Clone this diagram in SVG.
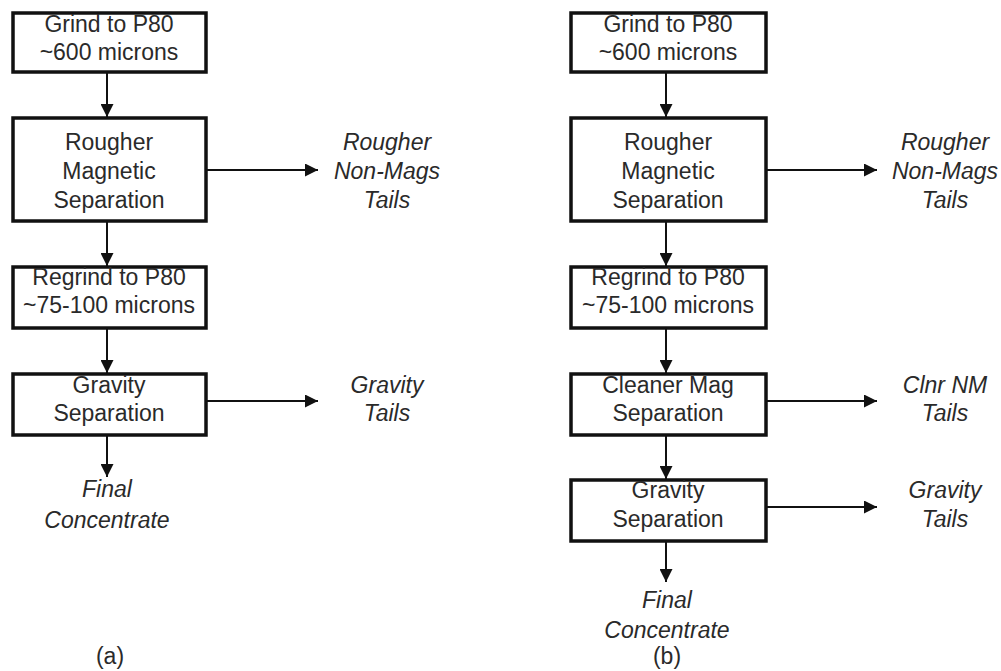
<svg xmlns="http://www.w3.org/2000/svg" width="1001" height="671" viewBox="0 0 1001 671">
<defs>
<marker id="ah" viewBox="0 0 10 10" refX="10" refY="5" markerWidth="6.5" markerHeight="6.5" markerUnits="strokeWidth" orient="auto">
<path d="M0,0 L10,5 L0,10 z" fill="#111"/>
</marker>
<style>
.box{fill:#fff;stroke:#111;stroke-width:3.5}
.t{font-family:"Liberation Sans",Arial,sans-serif;font-size:23px;fill:#2a2a2a;text-anchor:middle}
.i{font-style:italic}
.c{stroke:#111;stroke-width:2;fill:none;marker-end:url(#ah)}
</style>
</defs>
<rect width="1001" height="671" fill="#fff"/>
<g id="connectors">
<line class="c" x1="107" y1="73" x2="107" y2="117"/>
<line class="c" x1="107" y1="222" x2="107" y2="266"/>
<line class="c" x1="206" y1="170" x2="318" y2="170"/>
<line class="c" x1="107" y1="328" x2="107" y2="373"/>
<line class="c" x1="206" y1="401" x2="318" y2="401"/>
<line class="c" x1="107" y1="435" x2="107" y2="477"/>
<line class="c" x1="666" y1="73" x2="666" y2="117"/>
<line class="c" x1="666" y1="222" x2="666" y2="266"/>
<line class="c" x1="766" y1="170" x2="877" y2="170"/>
<line class="c" x1="666" y1="328" x2="666" y2="373"/>
<line class="c" x1="766" y1="401" x2="877" y2="401"/>
<line class="c" x1="666" y1="435" x2="666" y2="479"/>
<line class="c" x1="766" y1="507" x2="877" y2="507"/>
<line class="c" x1="666" y1="541" x2="666" y2="582"/>
</g>
<g id="a-grind">
<rect class="box" x="13" y="13" width="193" height="59"/>
<text class="t" x="109" y="32">Grind to P80</text>
<text class="t" x="109" y="60">~600 microns</text>
</g>
<g id="a-rougher">
<rect class="box" x="13" y="118" width="193" height="103"/>
<text class="t" x="109" y="150">Rougher</text>
<text class="t" x="109" y="179">Magnetic</text>
<text class="t" x="109" y="208">Separation</text>
</g>
<g id="a-rougher-tails">
<text class="t i" x="387" y="150">Rougher</text>
<text class="t i" x="387" y="179">Non-Mags</text>
<text class="t i" x="387" y="208">Tails</text>
</g>
<g id="a-regrind">
<rect class="box" x="13" y="267" width="193" height="61"/>
<text class="t" x="109" y="285">Regrind to P80</text>
<text class="t" x="109" y="313">~75-100 microns</text>
</g>
<g id="a-gravity">
<rect class="box" x="13" y="374" width="193" height="61"/>
<text class="t" x="109" y="393">Gravity</text>
<text class="t" x="109" y="421">Separation</text>
</g>
<g id="a-gravity-tails">
<text class="t i" x="387" y="393">Gravity</text>
<text class="t i" x="387" y="421">Tails</text>
</g>
<g id="a-final">
<text class="t i" x="107" y="497">Final</text>
<text class="t i" x="107" y="528">Concentrate</text>
</g>
<text class="t" x="110" y="664">(a)</text>
<g id="b-grind">
<rect class="box" x="571" y="13" width="195" height="59"/>
<text class="t" x="668" y="32">Grind to P80</text>
<text class="t" x="668" y="60">~600 microns</text>
</g>
<g id="b-rougher">
<rect class="box" x="571" y="118" width="195" height="103"/>
<text class="t" x="668" y="150">Rougher</text>
<text class="t" x="668" y="179">Magnetic</text>
<text class="t" x="668" y="208">Separation</text>
</g>
<g id="b-rougher-tails">
<text class="t i" x="945" y="150">Rougher</text>
<text class="t i" x="945" y="179">Non-Mags</text>
<text class="t i" x="945" y="208">Tails</text>
</g>
<g id="b-regrind">
<rect class="box" x="571" y="267" width="195" height="61"/>
<text class="t" x="668" y="285">Regrind to P80</text>
<text class="t" x="668" y="313">~75-100 microns</text>
</g>
<g id="b-cleaner">
<rect class="box" x="571" y="374" width="195" height="61"/>
<text class="t" x="668" y="393">Cleaner Mag</text>
<text class="t" x="668" y="421">Separation</text>
</g>
<g id="b-cleaner-tails">
<text class="t i" x="945" y="393">Clnr NM</text>
<text class="t i" x="945" y="421">Tails</text>
</g>
<g id="b-gravity">
<rect class="box" x="571" y="480" width="195" height="61"/>
<text class="t" x="668" y="498">Gravity</text>
<text class="t" x="668" y="527">Separation</text>
</g>
<g id="b-gravity-tails">
<text class="t i" x="945" y="498">Gravity</text>
<text class="t i" x="945" y="527">Tails</text>
</g>
<g id="b-final">
<text class="t i" x="667" y="608">Final</text>
<text class="t i" x="667" y="638">Concentrate</text>
</g>
<text class="t" x="667" y="664">(b)</text>
</svg>
